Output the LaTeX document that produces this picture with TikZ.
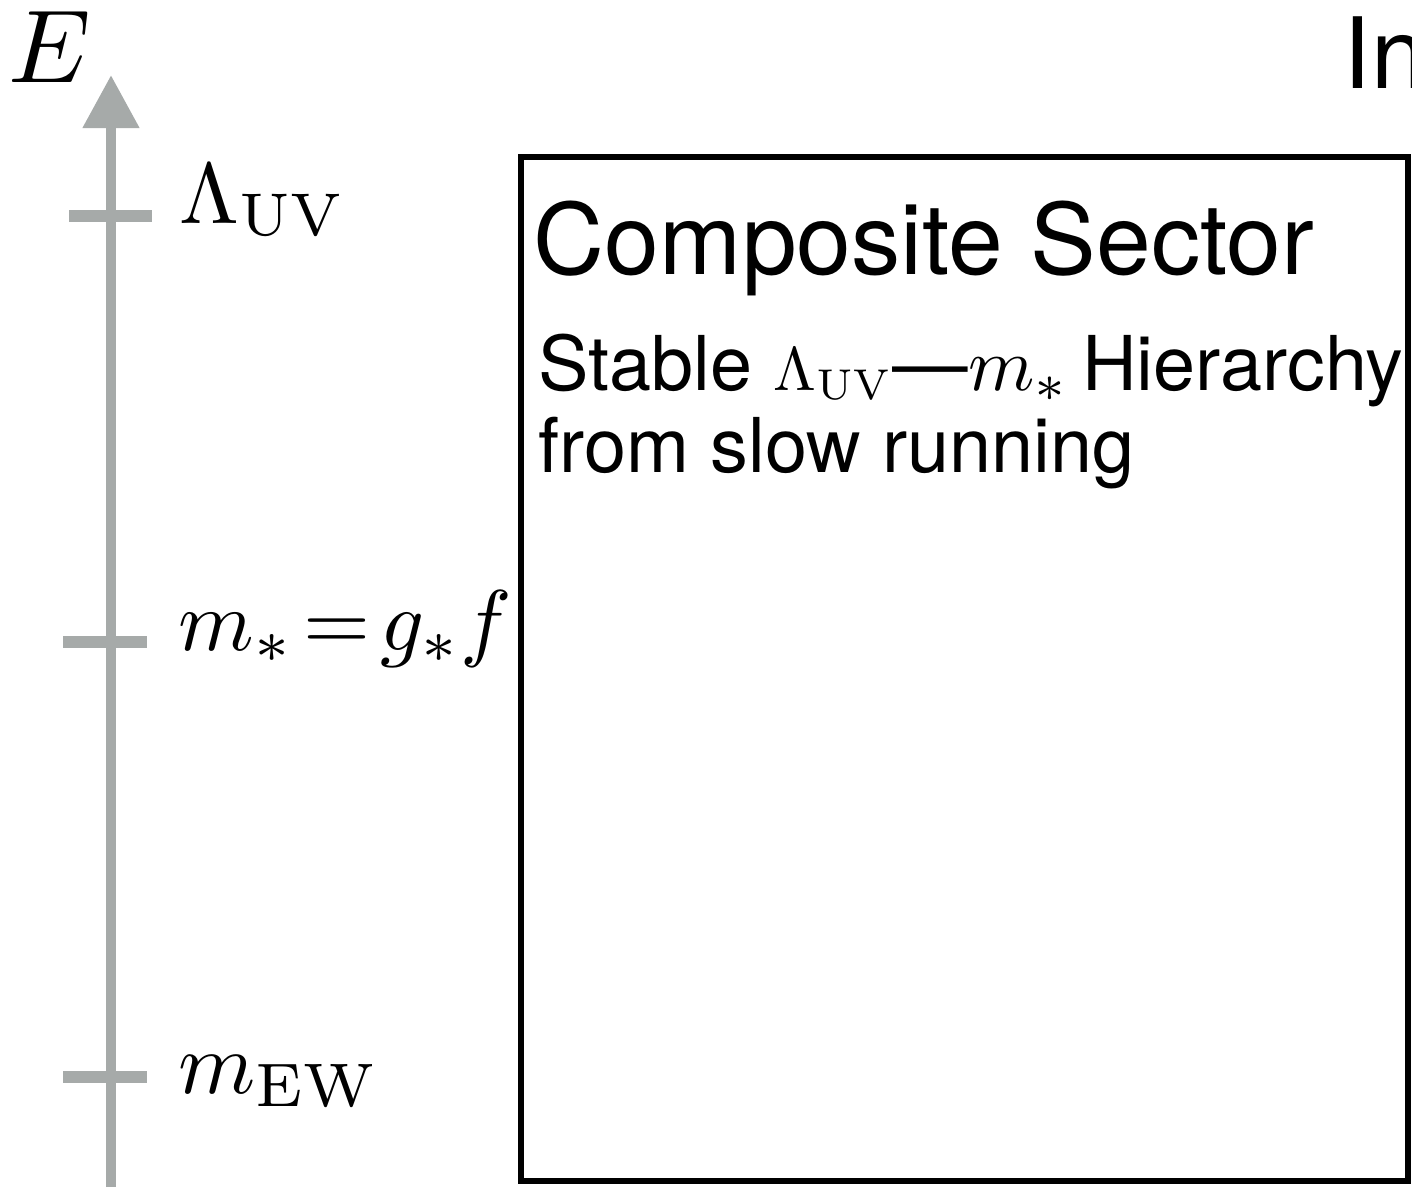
\RequirePackage{fix-cm}
\documentclass[tikz,border=0pt]{standalone}
\usepackage{graphicx}
\usepackage[no-math]{fontspec}
\setmainfont{TeX Gyre Heros}
\usetikzlibrary{arrows.meta,positioning}
\definecolor{axisgray}{RGB}{166,170,169}
% math typeset at 10pt, then scaled up
\newcommand{\bigmath}[2]{\scalebox{#1}{\fontsize{10}{12}\selectfont$#2$}}

\begin{document}
\begin{tikzpicture}[
    x=0.01cm, y=-0.01cm,
    axis/.style={draw=axisgray, line width=3.1pt, -{Triangle[length=5.3mm, width=5.4mm]}},
    tick/.style={draw=axisgray, line width=3.6pt},
    level/.style={anchor=base west, inner sep=0pt},
    title/.style={anchor=base west, inner sep=0pt, font=\fontsize{28}{33}\selectfont},
    body/.style={anchor=north west, inner sep=0pt, align=left, font=\fontsize{21.5}{23.3}\selectfont},
    sectorbox/.style={draw, line width=1.7pt, inner sep=0pt, minimum width=8.87cm, minimum height=10.24cm}
]
\useasboundingbox (0,0) rectangle (1412,1187);
% energy axis
\coordinate (axbot) at (111,1187);
\coordinate (axtop) at (111,75);
\draw[axis] (axbot) -- (axtop);
\node[level] (E) at (8,82) {\bigmath{2.95}{E}};
% scales
\coordinate (uvl) at (69,216);  \coordinate (uvr) at (152,216);
\coordinate (msl) at (63,642);  \coordinate (msr) at (147,642);
\coordinate (ewl) at (63,1077); \coordinate (ewr) at (147,1077);
\draw[tick] (uvl) -- (uvr);
\draw[tick] (msl) -- (msr);
\draw[tick] (ewl) -- (ewr);
\node[level] (uv) at (179,223) {\bigmath{2.45}{\Lambda_{\mathrm{UV}}}};
\node[level] (mstar) at (178,650) {\bigmath{2.45}{m_*\mkern-3mu=\mkern-3mu g_*f}};
\node[level] (mew) at (178,1093) {\bigmath{2.5}{m_{\mathrm{EW}}}};
% composite sector
\node[sectorbox] (sector) at (964.5,669) {};
\node[title] (comp) at (533,274) {Composite Sector};
\node[body] (hier) at (538,333) {Stable \bigmath{1.75}{\Lambda_{\mathrm{UV}}}\textemdash\bigmath{2.15}{m_*}\,Hierarchy\\from slow running};
\node[title] (ir) at (1343,88) {In};
\end{tikzpicture}
\end{document}
